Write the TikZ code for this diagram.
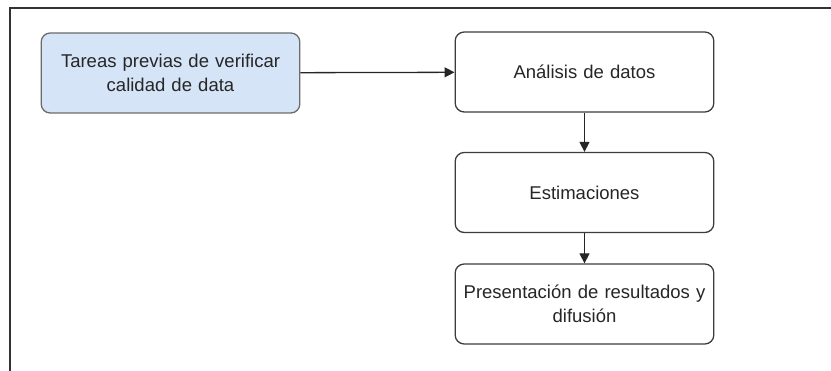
\documentclass[tikz,border=0pt]{standalone}
\usepackage{fontspec}
\setmainfont{Liberation Sans}
\usetikzlibrary{arrows.meta}
\definecolor{boxblue}{HTML}{D6E4F8}
\definecolor{boxline}{HTML}{3C3C3C}
\begin{document}
\begin{tikzpicture}[x=1pt,y=-1pt,
  stage/.style={draw=boxline, line width=1.3pt, rounded corners=9pt, fill=white,
    minimum width=255pt, minimum height=80pt, align=center, text width=252pt,
    font=\fontsize{18.5}{23.5}\selectfont, text=black!85},
  flow/.style={-{Triangle[length=10pt,width=10pt]}, line width=1.3pt, draw=black!85}]
  \useasboundingbox (0,0) rectangle (831,371);
  % open frame around the diagram
  \draw[line width=1.6pt, black!80] (10,371) -- (10,8) -- (831,8);
  \node[stage, fill=boxblue, draw=gray!85!black] (prev) at (170.5,73) {Tareas previas de verificar\\calidad de data};
  \node[stage] (anal) at (584.5,72) {Análisis de datos};
  \node[stage] (est) at (584.5,192.5) {Estimaciones};
  \node[stage] (pres) at (584.5,304) {Presentación de resultados y\\difusión};
  \draw[flow] (prev) -- (anal);
  \draw[flow] (anal) -- (est);
  \draw[flow] (est) -- (pres);
\end{tikzpicture}
\end{document}
